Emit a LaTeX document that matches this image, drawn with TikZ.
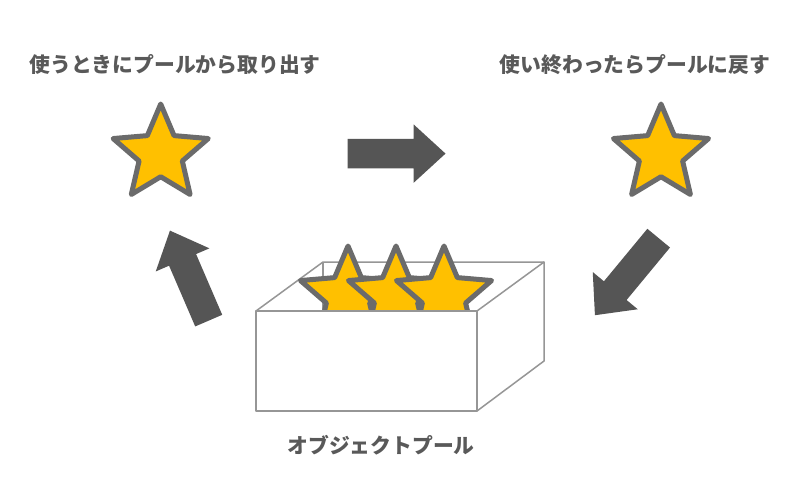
\documentclass[tikz,border=0pt]{standalone}
\usepackage{fontspec}
\usepackage{tikz}
\usetikzlibrary{shapes.geometric,shapes.arrows,positioning}
\newfontfamily\jpfont{Noto Sans CJK JP}
\definecolor{stargold}{HTML}{FFC000}
\definecolor{starline}{HTML}{6B6B6B}
\definecolor{arrowgray}{HTML}{555555}
\definecolor{textgray}{HTML}{595959}
\definecolor{boxline}{HTML}{969696}
\tikzstyle{item} = [star, star points=5, star point ratio=2.2, minimum size=100pt, inner sep=0pt, fill=stargold, draw=starline, line width=5pt, line join=round]
\tikzstyle{caption} = [font=\jpfont\bfseries\fontsize{20.8}{24}\selectfont, text=textgray]
\tikzstyle{move} = [single arrow, single arrow head extend=14.5pt, single arrow tip angle=85, single arrow head indent=0pt, inner xsep=0pt, inner ysep=14.5pt, minimum height=98pt, fill=arrowgray, anchor=tail]
\tikzstyle{box} = [draw=boxline, line width=1.5pt, line join=round]

\begin{document}
\begin{tikzpicture}[x=1pt, y=-1pt]
		\fill[white] (0,0) rectangle (800,480);
		\useasboundingbox (0,0) rectangle (800,480);
		% Captions
		\node[caption] (T1) at (175,65) {使うときにプールから取り出す};
		\node[caption] (T2) at (635,65) {使い終わったらプールに戻す};
		\node[caption] (T3) at (381,445) {オブジェクトプール};
		% Stars
		\node[item] (A) at (160.7,154) {};
		\node[item] (B) at (661,154) {};
		% Pool
		\coordinate (BL) at (323,262);
		\coordinate (BR) at (544,262);
		\coordinate (FL) at (256,311);
		\coordinate (FR) at (477,311);
		\draw[box] (FL) -- (BL) -- (BR);
		\draw[box] (BL) -- (323,311);
		\node[item] (P1) at (348,296) {};
		\node[item] (P2) at (396,296) {};
		\node[item] (P3) at (444,296) {};
		\filldraw[box, fill=white] (FL) rectangle (477,411);
		\filldraw[box, fill=white] (FR) -- (BR) -- (544,361) -- (477,411) -- cycle;
		%Arrows
		\node[move] (R) at (347.3,153.6) {};
		\node[move, rotate=113.3] (U) at (208.8,320.8) {};
		\node[move, rotate=230.4, minimum height=100pt] (D) at (658.8,238) {};
	\end{tikzpicture}
\end{document}
